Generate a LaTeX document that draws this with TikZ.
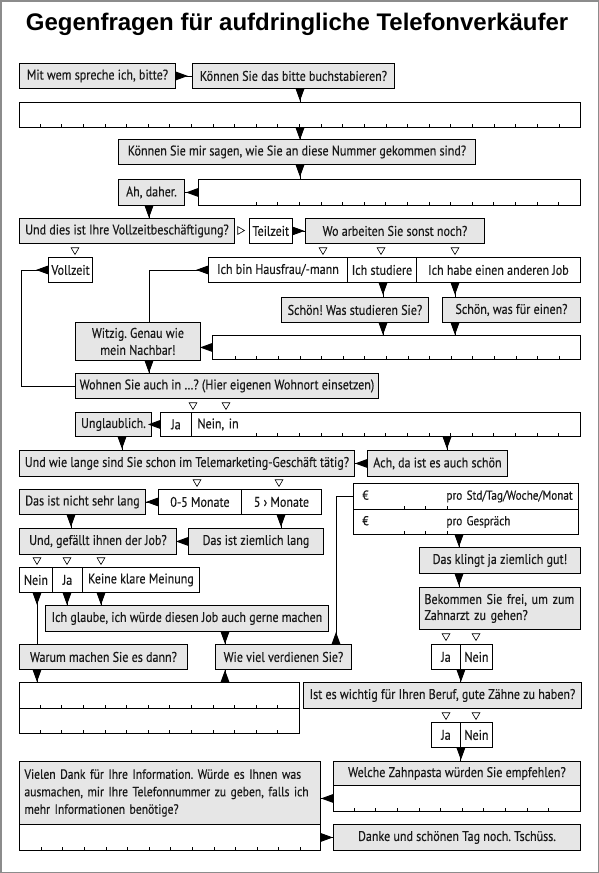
\documentclass[tikz,border=0pt]{standalone}
\usepackage{fontspec}
\setmainfont{PT Sans}[FakeStretch=0.86, FakeBold=0.3]
\newfontfamily\titlefont{Liberation Sans}
\usepackage{tikz}
\usetikzlibrary{arrows.meta,positioning,calc,shapes.geometric}

\definecolor{boxgray}{HTML}{E6E6E6}
\definecolor{framegray}{HTML}{8C8C8C}

% tick marks along the bottom edge of an answer box
\newcommand\tickrow[3]{\foreach \k in {0,...,#3}{\draw[tick] ($(#1.south west)+({#2+21.62*\k},0)$) -- ++(0,-4);}}

\frenchspacing
\begin{document}
\begin{tikzpicture}[
    x=1pt, y=-1pt,
    every node/.style={font=\fontsize{14}{16}\selectfont, text=black!90},
    gbox/.style={draw, fill=boxgray, line width=0.9pt, anchor=north west, inner sep=3pt, minimum height=25pt},
    wbox/.style={gbox, fill=white},
    arr/.style={{Triangle[reversed, length=12pt, width=8.5pt]}-, line width=0.9pt},
    choice/.style={draw, regular polygon, regular polygon sides=3, shape border rotate=180, inner sep=0pt, minimum size=9pt, line width=0.6pt},
    tick/.style={line width=0.7pt}
]
\useasboundingbox (0,0) rectangle (599,873);
\draw[framegray, line width=1.5pt] (0.75,0.75) rectangle (598.25,872.25);

\node[font=\titlefont\bfseries\fontsize{24}{28}\selectfont, text=black] (title) at (297,24) {Gegenfragen für aufdringliche Telefonverkäufer};

% columns for the vertical connectors
\coordinate (c37) at (37,0);
\coordinate (c67) at (67,0);
\coordinate (c71) at (71,0);
\coordinate (c101) at (101,0);
\coordinate (c122) at (122,0);
\coordinate (c149) at (149,0);
\coordinate (c225) at (225,0);
\coordinate (c281) at (281,0);
\coordinate (c300) at (300,0);
\coordinate (c336) at (336,0);
\coordinate (c383) at (383,0);
\coordinate (c447) at (447,0);
\coordinate (c455) at (455,0);
\coordinate (c459) at (459,0);

% top part
\node[gbox, minimum width=156pt] (mitwem) at (19,63) {Mit wem spreche ich, bitte?};
\node[gbox, minimum width=202pt] (buchst) at (192,63) {Können Sie das bitte buchstabieren?};
\node[wbox, minimum width=561pt] (ans1) at (19,102) {};
\node[gbox, minimum width=357pt] (nummer) at (118,139) {Können Sie mir sagen, wie Sie an diese Nummer gekommen sind?};
\node[gbox, minimum width=66pt, minimum height=26pt] (daher) at (118,179) {Ah, daher.};
\node[wbox, minimum width=382pt, minimum height=26pt] (ans2) at (198,179) {};

\node[gbox, minimum width=215pt] (vollq) at (19,218) {Und dies ist Ihre Vollzeitbeschäftigung?};
\node[choice, shape border rotate=-90] (tteil) at (240,230.5) {};
\node[wbox, minimum width=41pt] (teilzeit) at (249,218) {Teilzeit};
\node[gbox, minimum width=179pt] (sonst) at (305,218) {Wo arbeiten Sie sonst noch?};

\node[choice] (tvoll) at (75,250) {};
\node[choice] (thaus) at (323,250) {};
\node[choice] (tstud) at (381,250) {};
\node[choice] (tjob) at (455,250) {};
\node[wbox, minimum width=44pt] (vollzeit) at (48,257) {Vollzeit};
\node[wbox, minimum width=139pt] (hausfrau) at (208,257) {Ich bin Hausfrau/-mann};
\node[wbox, minimum width=69pt] (studiere) at (347,257) {Ich studiere};
\node[wbox, minimum width=164pt] (anderer) at (416,257) {Ich habe einen anderen Job};

\node[gbox, minimum width=147pt] (schoenstud) at (281,297) {Schön! Was studieren Sie?};
\node[gbox, minimum width=138pt] (schoenwas) at (442,297) {Schön, was für einen?};
\node[gbox, minimum width=125pt, minimum height=38pt, align=center, font=\fontsize{14}{17}\selectfont] (witzig) at (75,322) {Witzig. Genau wie\\mein Nachbar!};
\node[wbox, minimum width=368pt, minimum height=24pt] (ans3) at (212,335) {};
\node[gbox, minimum width=303pt] (wohnen) at (75,373) {Wohnen Sie auch in …? (Hier eigenen Wohnort einsetzen)};

\node[choice] (tja1) at (193,405) {};
\node[choice] (tnein1) at (226,405) {};
\node[gbox, minimum width=76pt, minimum height=24pt] (unglaub) at (75,412) {Unglaublich.};
\node[wbox, minimum width=31pt, minimum height=24pt] (ja1) at (160,412) {Ja};
\node[wbox, minimum height=24pt, inner xsep=6pt, text width=377pt, align=left] (neinin) at (191,412) {Nein, in};

\node[gbox, minimum width=335pt, minimum height=26pt] (wielange) at (19,450) {Und wie lange sind Sie schon im Telemarketing-Geschäft tätig?};
\node[gbox, minimum width=140pt, minimum height=26pt] (ach) at (367,450) {Ach, da ist es auch schön};

% left column
\node[choice] (tkurz) at (197,482) {};
\node[choice] (tlang) at (279,482) {};
\node[gbox, minimum width=126pt] (nichtlang) at (19,489) {Das ist nicht sehr lang};
\node[wbox, minimum width=83pt] (mon05) at (158,489) {0-5 Monate};
\node[wbox, minimum width=80pt] (mon5) at (241,489) {5 › Monate};
\node[gbox, minimum width=157pt, minimum height=26pt] (gefaellt) at (19,528) {Und, gefällt ihnen der Job?};
\node[gbox, minimum width=135pt, minimum height=26pt] (ziemlich) at (188,528) {Das ist ziemlich lang};

\node[choice] (tnein2) at (37,560) {};
\node[choice] (tja2) at (67,560) {};
\node[choice] (tkeine) at (101,560) {};
\node[wbox, minimum width=33pt] (nein2) at (19,567) {Nein};
\node[wbox, minimum width=30pt] (ja2) at (52,567) {Ja};
\node[wbox, minimum width=117pt] (keine) at (82,567) {Keine klare Meinung};
\node[gbox, minimum width=283pt, minimum height=26pt] (glaube) at (45,605) {Ich glaube, ich würde diesen Job auch gerne machen};
\node[gbox, minimum width=168pt] (warum) at (19,644) {Warum machen Sie es dann?};
\node[gbox, minimum width=136pt] (wieviel) at (215,644) {Wie viel verdienen Sie?};
\node[wbox, minimum width=280pt, minimum height=26pt] (ans4a) at (19,682) {};
\node[wbox, minimum width=280pt] (ans4b) at (19,708) {};

% right column
\node[wbox, minimum width=225pt, minimum height=26pt, inner xsep=5pt, text width=215pt, align=left, font=\fontsize{13}{16}\selectfont] (euro1) at (353,483) {\hspace*{4pt}\makebox[84pt][l]{€}\makebox[0pt][l]{pro Std/Tag/Woche/Monat}};
\node[wbox, minimum width=225pt, inner xsep=5pt, text width=215pt, align=left, font=\fontsize{13}{16}\selectfont] (euro2) at (353,509) {\hspace*{4pt}\makebox[84pt][l]{€}\makebox[0pt][l]{pro Gespräch}};
\node[gbox, minimum width=161pt, minimum height=26pt] (klingt) at (419,547) {Das klingt ja ziemlich gut!};
\node[gbox, minimum height=42pt, inner xsep=5pt, text width=151pt, align=left, font=\fontsize{14}{16}\selectfont] (zahnarzt) at (419,587) {Bekommen Sie frei, um zum\\Zahnarzt zu gehen?};
\node[choice] (tja3) at (446,636) {};
\node[choice] (tnein3) at (476,636) {};
\node[wbox, minimum width=29pt] (ja3) at (431,644) {Ja};
\node[wbox, minimum width=32pt] (nein3) at (460,644) {Nein};
\node[gbox, minimum width=278pt, minimum height=26pt] (beruf) at (303,682) {Ist es wichtig für Ihren Beruf, gute Zähne zu haben?};
\node[choice] (tja4) at (446,715) {};
\node[choice] (tnein4) at (476,715) {};
\node[wbox, minimum width=29pt] (ja4) at (431,722) {Ja};
\node[wbox, minimum width=32pt] (nein4) at (460,722) {Nein};

% bottom
\node[gbox, minimum width=247pt, minimum height=24pt] (zahnpasta) at (333,761) {Welche Zahnpasta würden Sie empfehlen?};
\node[wbox, minimum width=247pt, minimum height=26pt] (ans5) at (333,785) {};
\node[gbox, minimum height=63pt, inner xsep=5pt, text width=291pt, align=left, font=\fontsize{13.5}{17.5}\selectfont] (vielen) at (19,761) {\mbox{Vielen Dank für Ihre Information. Würde es Ihnen was}\\\mbox{ausmachen, mir Ihre Telefonnummer zu geben, falls ich}\\mehr Informationen benötige?};
\node[wbox, minimum width=301pt, minimum height=26pt] (ans6) at (19,824) {};
\node[gbox, minimum width=247pt, minimum height=26pt] (tschuess) at (333,824) {Danke und schönen Tag noch. Tschüss.};

% ticks
\tickrow{ans1}{21}{24}
\tickrow{ans2}{58}{14}
\tickrow{ans3}{23}{15}
\tickrow{neinin}{65}{14}
\tickrow{euro1}{51}{2}
\tickrow{euro2}{51}{2}
\tickrow{ans4a}{21}{11}
\tickrow{ans4b}{21}{11}
\tickrow{ans5}{21}{9}
\tickrow{ans6}{22}{12}

% connectors
\draw[arr] (mitwem) -- (buchst);
\draw[arr] (buchst.south -| c300) -- (ans1.north -| c300);
\draw[arr] (ans1.south -| c300) -- (nummer.north -| c300);
\draw[arr] (nummer.south -| c300) -- (ans2.north -| c300);
\draw[arr] (ans2) -- (daher);
\draw[arr] (daher.south -| c149) -- (vollq.north -| c149);
\draw[arr] (teilzeit) -- (sonst);
\draw[arr] (vollzeit.west) -- ++(-27,0) |- (wohnen.west);
\draw[arr] (hausfrau.west) -| (witzig.north -| c149);
\draw[arr] (studiere.south -| c383) -- (schoenstud.north -| c383);
\draw[arr] (anderer.south -| c455) -- (schoenwas.north -| c455);
\draw[arr] (schoenstud.south -| c383) -- (ans3.north -| c383);
\draw[arr] (schoenwas.south -| c455) -- (ans3.north -| c455);
\draw[arr] (ans3.west) -- (ans3.west -| witzig.east);
\draw[arr] (witzig.south -| c149) -- (wohnen.north -| c149);
\draw[arr] (ja1) -- (unglaub);
\draw[arr] (neinin.south -| c447) -- (ach.north -| c447);
\draw[arr] (unglaub.south -| c122) -- (wielange.north -| c122);
\draw[arr] (ach) -- (wielange);
\draw[arr] (mon05) -- (nichtlang);
\draw[arr] (mon5.south -| c281) -- (ziemlich.north -| c281);
\draw[arr] (nichtlang.south -| c71) -- (gefaellt.north -| c71);
\draw[arr] (ziemlich) -- (gefaellt);
\draw[arr] (nein2.south -| c37) -- (warum.north -| c37);
\draw[arr] (ja2.south -| c67) -- (glaube.north -| c67);
\draw[arr] (keine.south -| c101) -- (glaube.north -| c101);
\draw[arr] (glaube.south -| c225) -- (wieviel.north -| c225);
\draw[arr] (warum.south -| c37) -- (ans4a.north -| c37);
\draw[arr] (ans4a.north -| c225) -- (wieviel.south -| c225);
\draw[arr] (wieviel.north -| c336) |- (euro1.west);
\draw[arr] (euro2.south -| c459) -- (klingt.north -| c459);
\draw[arr] (klingt.south -| c459) -- (zahnarzt.north -| c459);
\draw[arr] (ja3.south east) -- (beruf.north -| ja3.south east);
\draw[arr] (ja4.south east) -- (zahnpasta.north -| ja4.south east);
\draw[arr] (ans5.west) -- (ans5.west -| vielen.east);
\draw[arr] (ans6) -- (tschuess);

\end{tikzpicture}
\end{document}
